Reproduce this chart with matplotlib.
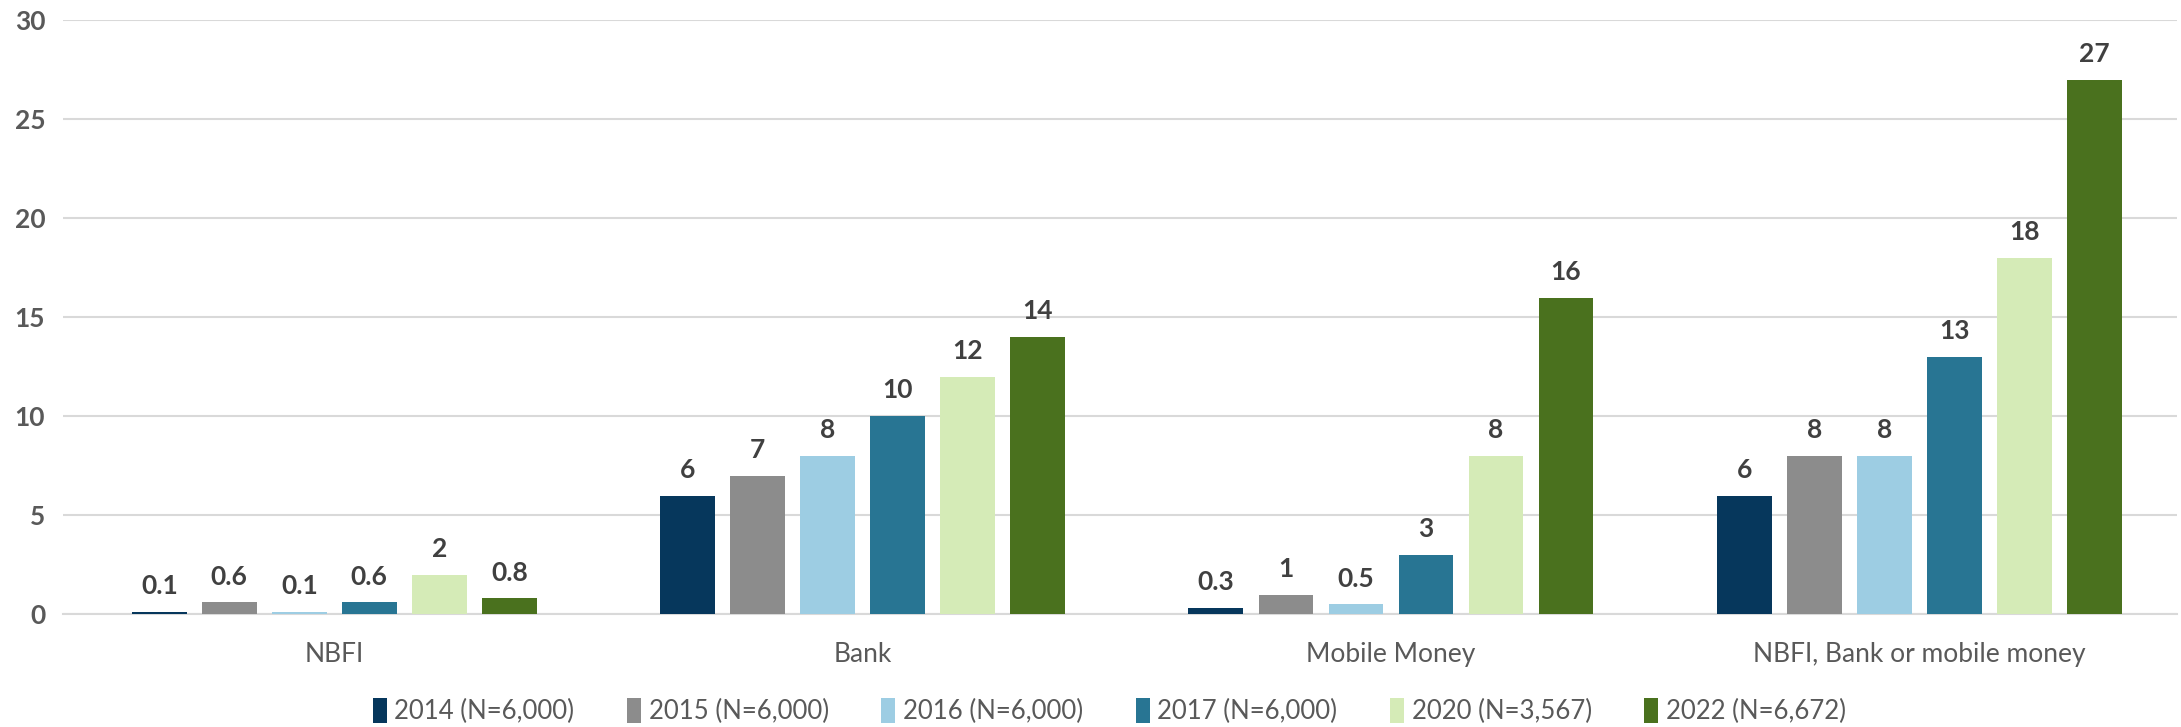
import numpy as np
import matplotlib.pyplot as plt

plt.rcParams['font.family'] = ['Lato', 'DejaVu Sans']

categories = ['NBFI', 'Bank', 'Mobile Money', 'NBFI, Bank or mobile money']
series = ['2014 (N=6,000)', '2015 (N=6,000)', '2016 (N=6,000)',
          '2017 (N=6,000)', '2020 (N=3,567)', '2022 (N=6,672)']
v2014 = [0.1, 6, 0.3, 6]
v2015 = [0.6, 7, 1, 8]
v2016 = [0.1, 8, 0.5, 8]
v2017 = [0.6, 10, 3, 13]
v2020 = [2, 12, 8, 18]
v2022 = [0.8, 14, 16, 27]
values = [v2014, v2015, v2016, v2017, v2020, v2022]
colors = ['#06375C', '#8C8C8C', '#9DCDE3', '#287593', '#D5EBB7', '#4A711E']

fig = plt.figure(figsize=(21.81, 7.27), dpi=100)
ax = fig.add_axes([0.029, 0.155, 0.969, 0.817])

x = np.arange(len(categories))
pitch = 0.1325
width = 0.104
for i, (vals, col, name) in enumerate(zip(values, colors, series)):
    pos = x + (i - 2.5) * pitch
    bars = ax.bar(pos, vals, width, color=col, label=name, zorder=3)
    labels = [f'{v:g}' for v in vals]
    ax.bar_label(bars, labels=labels, padding=10, fontsize=19,
                 fontweight='bold', color='#404040')

ax.set_xlim(-0.513, 3.487)
ax.set_ylim(0, 30)
ax.set_yticks(range(0, 31, 5))
ax.yaxis.grid(True, color='#D9D9D9', linewidth=1.5, zorder=0)
ax.set_axisbelow(True)
for s in ['top', 'right', 'left']:
    ax.spines[s].set_visible(False)
ax.spines['bottom'].set_color('#D9D9D9')
ax.spines['bottom'].set_linewidth(1.5)
ax.tick_params(axis='both', length=0)
ax.tick_params(axis='y', pad=13)
ax.tick_params(axis='x', pad=20)
ax.set_xticks(x)
ax.set_xticklabels(categories, fontsize=19, color='#595959')
for t in ax.get_yticklabels():
    t.set_fontsize(19)
    t.set_fontweight('bold')
    t.set_color('#595959')

leg = fig.legend(loc='center', bbox_to_anchor=(0.5086, 0.022), ncol=6,
                 frameon=False, fontsize=18.5, handlelength=0.55,
                 handleheight=1.1, handletextpad=0.3, columnspacing=2.04)
for t in leg.get_texts():
    t.set_color('#595959')

fig.savefig('out.png', dpi=100)
